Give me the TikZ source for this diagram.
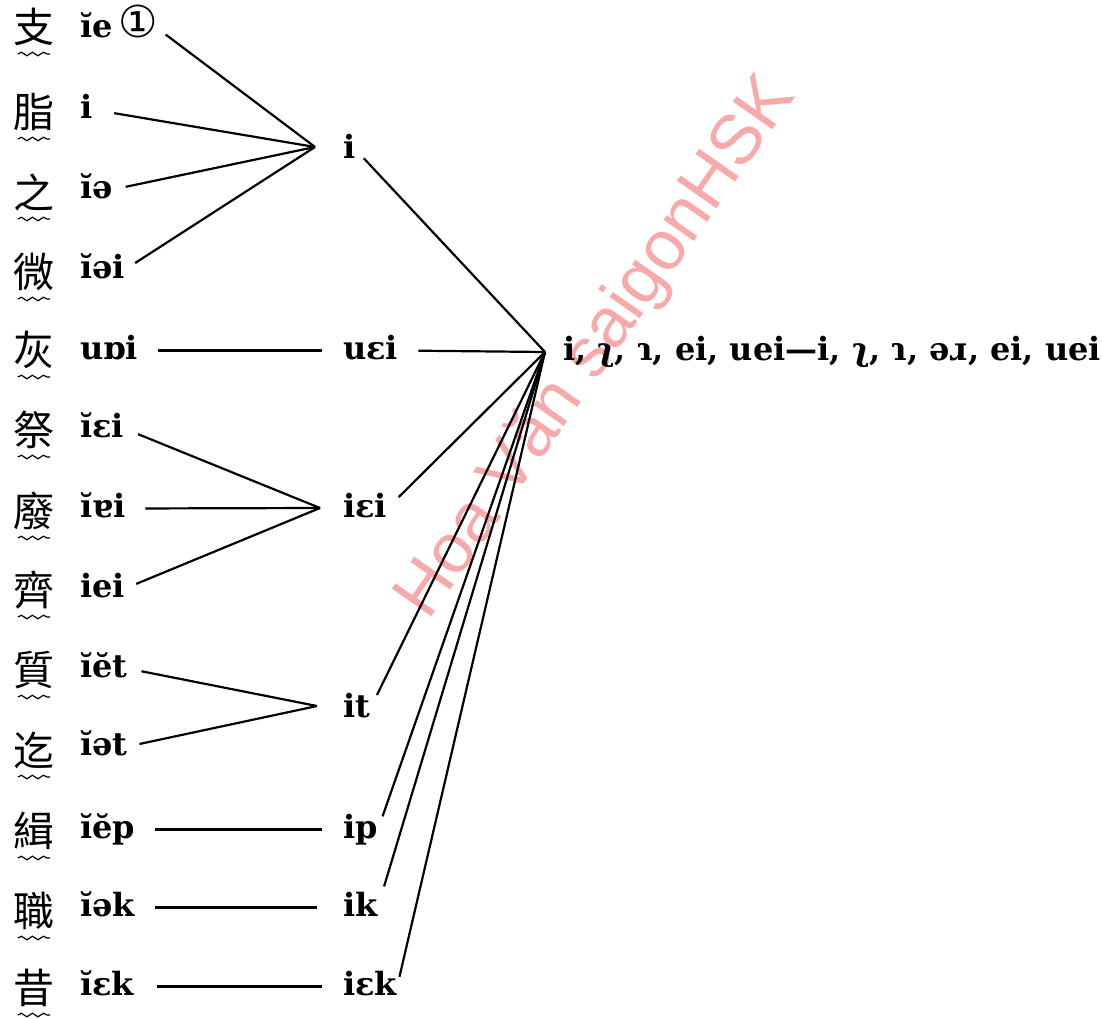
\documentclass[tikz,border=0pt]{standalone}
\usepackage{fontspec}
\setmainfont{DejaVu Serif}
\newfontfamily\cjk{Noto Sans CJK SC}
\newfontfamily\ipa{DejaVu Serif}
\newfontfamily\symf{DejaVu Sans}
\newfontfamily\wmf{Liberation Sans}
\usetikzlibrary{decorations.pathmorphing}
\begin{document}
\begin{tikzpicture}[x=1pt,y=-1pt,
  han/.style={font=\cjk\fontsize{41}{41}\selectfont, inner sep=0pt},
  rom/.style={font=\ipa\bfseries\fontsize{32}{32}\selectfont, inner sep=0pt, text height=17pt, text depth=0pt, anchor=base west},
  res/.style={font=\ipa\bfseries\fontsize{32}{32}\selectfont, inner sep=0pt, anchor=base west},
  wavy/.style={line width=1.2pt, decorate, decoration={snake, segment length=11pt, amplitude=1.8pt}},
  link/.style={line width=2.2pt},
  wmark/.style={font=\wmf\fontsize{70}{70}\selectfont, text={rgb,255:red,248;green,170;blue,170}, rotate=55, inner sep=0pt}
]
\useasboundingbox (0,0) rectangle (1102,1018);
\node[wmark] (wm) at (597,348) {Hoa Văn saigonHSK};

% Chinese rhyme names
\foreach \n/\c/\y in {1/支/27,2/脂/112,3/之/192,4/微/272,5/灰/350,6/祭/430,7/廢/511,8/齊/590,9/質/670,10/迄/750,11/緝/831,12/職/911,13/昔/988}{
  \node[han] (c\n) at (34,\y) {\c};
  \draw[wavy] ([shift={(-16,27)}]c\n.center) -- ([shift={(16,27)}]c\n.center);
}

% Middle Chinese finals
\node[rom] (r1) at (80,37) {ĭe\,{\symf\mdseries\fontsize{44}{44}\selectfont ①}};
\node[rom] (r2) at (80,118) {i};
\node[rom] (r3) at (80,198) {ĭə};
\node[rom] (r4) at (80,278) {ĭəi};
\node[rom] (r5) at (80,359) {uɒi};
\node[rom] (r6) at (80,437) {ĭɛi};
\node[rom] (r7) at (80,517) {ĭɐi};
\node[rom] (r8) at (80,597) {iei};
\node[rom] (r9) at (80,677) {ĭĕt};
\node[rom] (r10) at (80,755) {ĭət};
\node[rom] (r11) at (80,838) {ĭĕp};
\node[rom] (r12) at (80,916) {ĭək};
\node[rom] (r13) at (80,995) {ĭɛk};

% intermediate stage
\node[rom] (m1) at (343,158) {i};
\node[rom] (m2) at (343,359) {uɛi};
\node[rom] (m3) at (343,517) {iɛi};
\node[rom] (m4) at (343,717) {it};
\node[rom] (m5) at (343,838) {ip};
\node[rom] (m6) at (343,916) {ik};
\node[rom] (m7) at (343,995) {iɛk};

\coordinate (jI) at (315,147);
\coordinate (jIEI) at (320,508);
\coordinate (jIT) at (317,706);
\coordinate (J) at (545,352);

\node[res] (R) at (563,360) {i, ʅ, ɿ, ei, uei—i, ʅ, ɿ, əɹ, ei, uei};

% connectors
\draw[link, shorten <=10pt] (r1.east) -- (jI);
\draw[link, shorten <=22pt] (r2.east) -- (jI);
\draw[link, shorten <=13pt] (r3.east) -- (jI);
\draw[link, shorten <=12pt] (r4.east) -- (jI);
\draw[link, shorten <=20pt, shorten >=21pt] (r5.east) -- (m2.west);
\draw[link, shorten <=15pt] (r6.east) -- (jIEI);
\draw[link, shorten <=20pt] (r7.east) -- (jIEI);
\draw[link, shorten <=12pt] (r8.east) -- (jIEI);
\draw[link, shorten <=14pt] (r9.east) -- (jIT);
\draw[link, shorten <=12pt] (r10.east) -- (jIT);
\draw[link, shorten <=20pt, shorten >=21pt] (r11.east) -- (m5.west);
\draw[link, shorten <=20pt, shorten >=26pt] (r12.east) -- (m6.west);
\draw[link, shorten <=23pt, shorten >=21pt] (r13.east) -- (m7.west);

\draw[link, shorten <=12pt] (m1.east) -- (J);
\draw[link, shorten <=20pt] (m2.east) -- (J);
\draw[link, shorten <=16pt] (m3.east) -- (J);
\draw[link, shorten <=15pt] (m4.east) -- (J);
\draw[link, shorten <=14pt] (m5.east) -- (J);
\draw[link, shorten <=22pt] (m6.east) -- (J);
\draw[link, shorten <=10pt] (m7.east) -- (J);
\end{tikzpicture}
\end{document}
